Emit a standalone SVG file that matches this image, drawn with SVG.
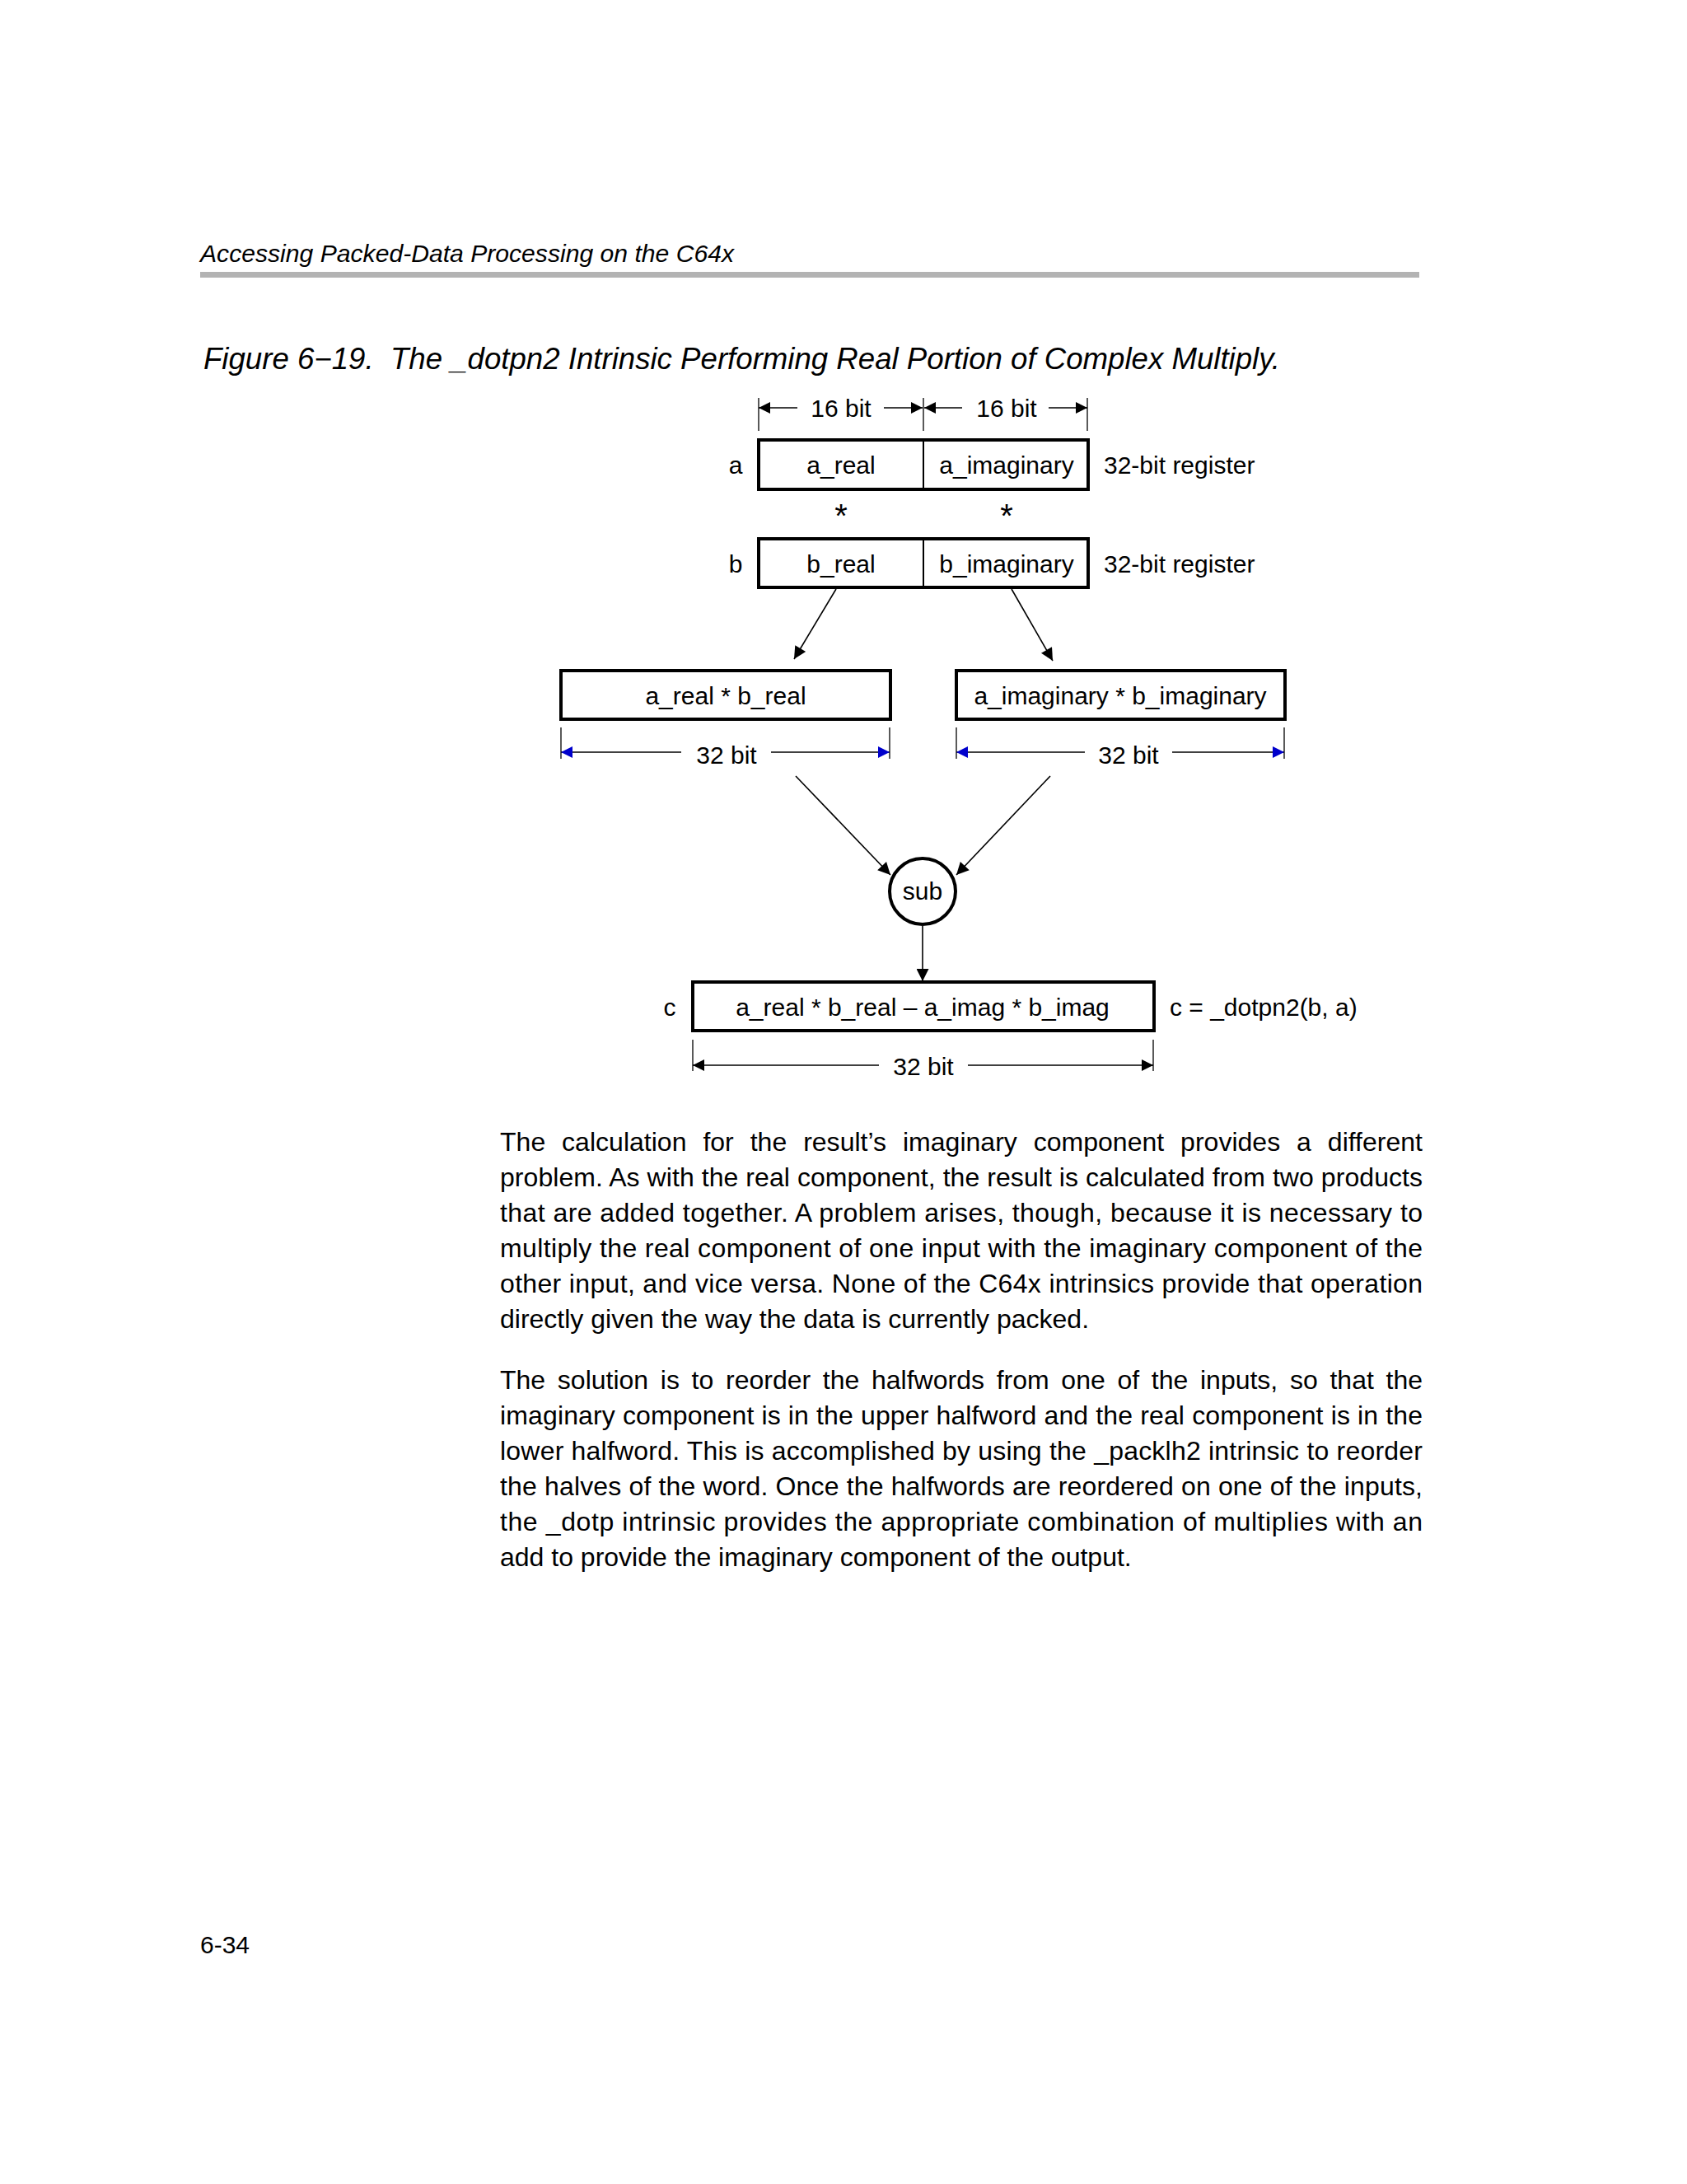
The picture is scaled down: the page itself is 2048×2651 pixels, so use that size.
<svg xmlns="http://www.w3.org/2000/svg" width="2048" height="2651" viewBox="0 0 2048 2651">
<defs>
<style>
text{font-family:"Liberation Sans",Arial,sans-serif;fill:#000}
.hdr{font-size:30px;font-style:italic}
.ttl{font-size:36px;font-style:italic}
.body{font-size:32px}
.lbl{font-size:30px}
.star{font-size:40px}
.box{fill:#fff;stroke:#000;stroke-width:4}
.thin{stroke:#000;stroke-width:1.6;fill:none}
.tick{stroke:#000;stroke-width:1.3}
.dim{stroke:#000;stroke-width:1.6;fill:none}
</style>
<marker id="ah" viewBox="0 0 10 10" refX="10" refY="5" markerUnits="userSpaceOnUse" markerWidth="18" markerHeight="15" orient="auto-start-reverse"><path d="M0,0 L10,5 L0,10 z" fill="#000"/></marker>
<marker id="dk" viewBox="0 0 10 10" refX="10" refY="5" markerUnits="userSpaceOnUse" markerWidth="15" markerHeight="14" orient="auto-start-reverse"><path d="M0,0 L10,5 L0,10 z" fill="#000"/></marker>
<marker id="db" viewBox="0 0 10 10" refX="10" refY="5" markerUnits="userSpaceOnUse" markerWidth="15" markerHeight="14" orient="auto-start-reverse"><path d="M0,0 L10,5 L0,10 z" fill="#0000cc"/></marker>
</defs>
<rect width="2048" height="2651" fill="#fff"/>

<g id="header">
<text class="hdr" x="243" y="318" textLength="648" lengthAdjust="spacingAndGlyphs">Accessing Packed-Data Processing on the C64x</text>
<rect x="243" y="330" width="1480" height="7" fill="#b3b3b3"/>
</g>
<text id="title" class="ttl" x="247" y="448" textLength="1307" lengthAdjust="spacingAndGlyphs">Figure 6−19.&#160; The _dotpn2 Intrinsic Performing Real Portion of Complex Multiply.</text>

<g id="dim-top">
<line class="tick" x1="921" y1="483" x2="921" y2="523"/>
<line class="tick" x1="1121" y1="483" x2="1121" y2="523"/>
<line class="tick" x1="1320" y1="483" x2="1320" y2="523"/>
<line class="dim" x1="968" y1="495" x2="921" y2="495" marker-end="url(#dk)"/>
<line class="dim" x1="1073" y1="495" x2="1120" y2="495" marker-end="url(#dk)"/>
<line class="dim" x1="1168" y1="495" x2="1122" y2="495" marker-end="url(#dk)"/>
<line class="dim" x1="1273" y1="495" x2="1320" y2="495" marker-end="url(#dk)"/>
<text class="lbl" x="1021" y="506" text-anchor="middle">16 bit</text>
<text class="lbl" x="1222" y="506" text-anchor="middle">16 bit</text>
</g>

<g id="reg-a">
<rect class="box" x="921" y="534" width="400" height="60"/>
<line x1="1121" y1="534" x2="1121" y2="594" stroke="#000" stroke-width="2"/>
<text class="lbl" x="893" y="575" text-anchor="middle">a</text>
<text class="lbl" x="1021" y="575" text-anchor="middle">a_real</text>
<text class="lbl" x="1222" y="575" text-anchor="middle">a_imaginary</text>
<text class="lbl" x="1340" y="575">32-bit register</text>
</g>
<g id="mult">
<text class="star" x="1021" y="640" text-anchor="middle">*</text>
<text class="star" x="1222" y="640" text-anchor="middle">*</text>
</g>
<g id="reg-b">
<rect class="box" x="921" y="654" width="400" height="59"/>
<line x1="1121" y1="654" x2="1121" y2="713" stroke="#000" stroke-width="2"/>
<text class="lbl" x="893" y="695" text-anchor="middle">b</text>
<text class="lbl" x="1021" y="695" text-anchor="middle">b_real</text>
<text class="lbl" x="1222" y="695" text-anchor="middle">b_imaginary</text>
<text class="lbl" x="1340" y="695">32-bit register</text>
</g>

<g id="prod-real">
<rect class="box" x="681" y="814" width="400" height="59"/>
<text class="lbl" x="881" y="855" text-anchor="middle">a_real * b_real</text>
<line class="tick" x1="681" y1="883" x2="681" y2="921"/>
<line class="tick" x1="1080" y1="883" x2="1080" y2="921"/>
<line class="dim" x1="827" y1="913" x2="681" y2="913" marker-end="url(#db)"/>
<line class="dim" x1="936" y1="913" x2="1080" y2="913" marker-end="url(#db)"/>
<text class="lbl" x="882" y="927" text-anchor="middle">32 bit</text>
</g>
<g id="prod-imag">
<rect class="box" x="1161" y="814" width="399" height="59"/>
<text class="lbl" x="1360" y="855" text-anchor="middle">a_imaginary * b_imaginary</text>
<line class="tick" x1="1161" y1="883" x2="1161" y2="921"/>
<line class="tick" x1="1559" y1="883" x2="1559" y2="921"/>
<line class="dim" x1="1317" y1="913" x2="1161" y2="913" marker-end="url(#db)"/>
<line class="dim" x1="1423" y1="913" x2="1559" y2="913" marker-end="url(#db)"/>
<text class="lbl" x="1370" y="927" text-anchor="middle">32 bit</text>
</g>

<g id="sub">
<circle cx="1120" cy="1082" r="40" fill="#fff" stroke="#000" stroke-width="4"/>
<text class="lbl" x="1120" y="1092" text-anchor="middle">sub</text>
</g>

<g id="result-c">
<rect class="box" x="841" y="1192" width="560" height="59"/>
<text class="lbl" x="813" y="1233" text-anchor="middle">c</text>
<text class="lbl" x="1120" y="1233" text-anchor="middle">a_real * b_real – a_imag * b_imag</text>
<text class="lbl" x="1420" y="1233">c = _dotpn2(b, a)</text>
<line class="tick" x1="841" y1="1262" x2="841" y2="1300"/>
<line class="tick" x1="1400" y1="1262" x2="1400" y2="1300"/>
<line class="dim" x1="1067" y1="1293" x2="841" y2="1293" marker-end="url(#dk)"/>
<line class="dim" x1="1175" y1="1293" x2="1400" y2="1293" marker-end="url(#dk)"/>
<text class="lbl" x="1121" y="1305" text-anchor="middle">32 bit</text>
</g>

<g id="connectors">
<line class="thin" x1="1015" y1="715" x2="964" y2="800" marker-end="url(#ah)"/>
<line class="thin" x1="1228" y1="715" x2="1278" y2="802" marker-end="url(#ah)"/>
<line class="thin" x1="966" y1="942" x2="1081" y2="1062" marker-end="url(#ah)"/>
<line class="thin" x1="1275" y1="942" x2="1161" y2="1062" marker-end="url(#ah)"/>
<line class="thin" x1="1120" y1="1124" x2="1120" y2="1191" marker-end="url(#ah)"/>
</g>

<g id="para1">
<text class="body" x="607" y="1397" textLength="1120" lengthAdjust="spacing" word-spacing="11">The calculation for the result’s imaginary component provides a different</text>
<text class="body" x="607" y="1440" textLength="1120" lengthAdjust="spacing">problem. As with the real component, the result is calculated from two products</text>
<text class="body" x="607" y="1483" textLength="1120" lengthAdjust="spacing">that are added together. A problem arises, though, because it is necessary to</text>
<text class="body" x="607" y="1526" textLength="1120" lengthAdjust="spacing">multiply the real component of one input with the imaginary component of the</text>
<text class="body" x="607" y="1569" textLength="1120" lengthAdjust="spacing">other input, and vice versa. None of the C64x intrinsics provide that operation</text>
<text class="body" x="607" y="1612">directly given the way the data is currently packed.</text>
</g>
<g id="para2">
<text class="body" x="607" y="1686" textLength="1120" lengthAdjust="spacing" word-spacing="5.8">The solution is to reorder the halfwords from one of the inputs, so that the</text>
<text class="body" x="607" y="1729" textLength="1120" lengthAdjust="spacing">imaginary component is in the upper halfword and the real component is in the</text>
<text class="body" x="607" y="1772" textLength="1120" lengthAdjust="spacing">lower halfword. This is accomplished by using the _packlh2 intrinsic to reorder</text>
<text class="body" x="607" y="1815" textLength="1120" lengthAdjust="spacing">the halves of the word. Once the halfwords are reordered on one of the inputs,</text>
<text class="body" x="607" y="1858" textLength="1120" lengthAdjust="spacing">the _dotp intrinsic provides the appropriate combination of multiplies with an</text>
<text class="body" x="607" y="1901">add to provide the imaginary component of the output.</text>
</g>

<text id="page" class="hdr" x="243" y="2371" style="font-style:normal">6-34</text>
</svg>
